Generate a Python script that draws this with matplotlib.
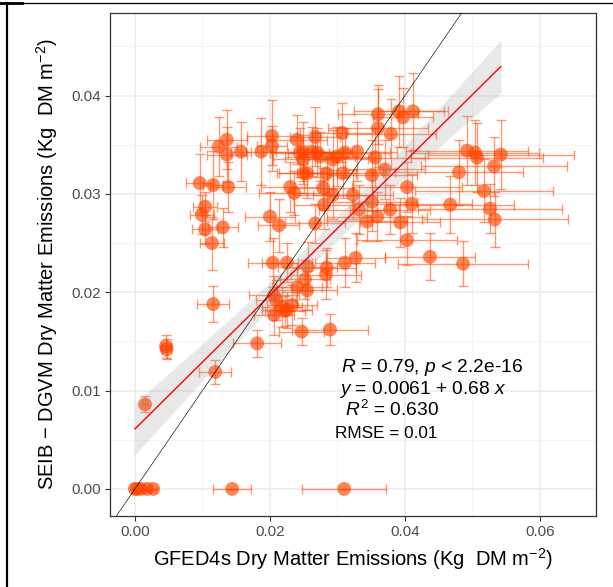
import numpy as np
import matplotlib
matplotlib.use("Agg")
import matplotlib.pyplot as plt
from matplotlib.lines import Line2D

plt.rcParams['font.family'] = ['Liberation Sans', 'DejaVu Sans']
plt.rcParams['mathtext.fontset'] = 'custom'
plt.rcParams['mathtext.rm'] = 'Liberation Sans'
plt.rcParams['mathtext.it'] = 'Liberation Sans:italic'

# GFED4s (x) vs SEIB-DGVM (y), mean and error, Kg DM m-2
gfed = [0.0000, 0.0003, 0.0009, 0.0018, 0.0027, 0.0144, 0.0310,
        0.0015, 0.0046, 0.0047, 0.0119, 0.0116, 0.0181, 0.0247, 0.0289,
        0.0096, 0.0116, 0.0138, 0.0104, 0.0099, 0.0104, 0.0130, 0.0114,
        0.0136, 0.0124, 0.0136, 0.0157, 0.0187, 0.0203, 0.0203, 0.0240,
        0.0267, 0.0249, 0.0200, 0.0213, 0.0230, 0.0236, 0.0267, 0.0280,
        0.0293, 0.0307, 0.0249, 0.0250, 0.0270, 0.0293, 0.0308, 0.0284,
        0.0279, 0.0204, 0.0225, 0.0256, 0.0284, 0.0311, 0.0327, 0.0252,
        0.0283, 0.0240, 0.0255, 0.0206, 0.0209, 0.0218, 0.0225, 0.0233,
        0.0206, 0.0222, 0.0360, 0.0391, 0.0412, 0.0397, 0.0360, 0.0379,
        0.0244, 0.0262, 0.0274, 0.0311, 0.0329, 0.0356, 0.0370, 0.0351,
        0.0255, 0.0323, 0.0351, 0.0332, 0.0359, 0.0378, 0.0344, 0.0393,
        0.0403, 0.0410, 0.0403, 0.0437, 0.0486, 0.0467, 0.0480, 0.0492,
        0.0504, 0.0507, 0.0542, 0.0532, 0.0517, 0.0526, 0.0533, 0.0299]
gfed_err = [0.0003, 0.0003, 0.0003, 0.0004, 0.0004, 0.0028, 0.0062,
            0.0004, 0.0007, 0.0007, 0.0024, 0.0024, 0.0036, 0.0033, 0.0056,
            0.0020, 0.0015, 0.0027, 0.0018, 0.0018, 0.0019, 0.0022, 0.0018,
            0.0030, 0.0027, 0.0030, 0.0015, 0.0022, 0.0037, 0.0022, 0.0044,
            0.0037, 0.0059, 0.0037, 0.0030, 0.0044, 0.0052, 0.0044, 0.0044,
            0.0059, 0.0044, 0.0044, 0.0037, 0.0044, 0.0052, 0.0059, 0.0044,
            0.0044, 0.0037, 0.0037, 0.0044, 0.0044, 0.0044, 0.0044, 0.0037,
            0.0052, 0.0037, 0.0044, 0.0037, 0.0030, 0.0030, 0.0037, 0.0037,
            0.0030, 0.0030, 0.0059, 0.0067, 0.0052, 0.0044, 0.0074, 0.0067,
            0.0044, 0.0059, 0.0052, 0.0067, 0.0059, 0.0074, 0.0059, 0.0067,
            0.0044, 0.0059, 0.0067, 0.0059, 0.0074, 0.0059, 0.0059, 0.0059,
            0.0081, 0.0089, 0.0074, 0.0067, 0.0096, 0.0095, 0.0095, 0.0090,
            0.0095, 0.0098, 0.0108, 0.0108, 0.0102, 0.0107, 0.0108, 0.0050]
seib = [0.0000, 0.0000, 0.0000, 0.0000, 0.0000, 0.0000, 0.0000,
        0.0086, 0.0145, 0.0142, 0.0119, 0.0188, 0.0148, 0.0160, 0.0162,
        0.0311, 0.0309, 0.0307, 0.0287, 0.0279, 0.0264, 0.0266, 0.0250,
        0.0355, 0.0348, 0.0340, 0.0343, 0.0343, 0.0359, 0.0349, 0.0355,
        0.0358, 0.0343, 0.0277, 0.0268, 0.0307, 0.0301, 0.0270, 0.0289,
        0.0299, 0.0362, 0.0335, 0.0321, 0.0342, 0.0335, 0.0321, 0.0321,
        0.0306, 0.0230, 0.0230, 0.0226, 0.0225, 0.0230, 0.0235, 0.0213,
        0.0218, 0.0205, 0.0202, 0.0197, 0.0192, 0.0185, 0.0182, 0.0187,
        0.0177, 0.0181, 0.0381, 0.0384, 0.0384, 0.0378, 0.0367, 0.0361,
        0.0342, 0.0343, 0.0338, 0.0342, 0.0343, 0.0337, 0.0325, 0.0319,
        0.0321, 0.0299, 0.0292, 0.0284, 0.0277, 0.0284, 0.0272, 0.0271,
        0.0307, 0.0290, 0.0253, 0.0236, 0.0229, 0.0289, 0.0322, 0.0344,
        0.0342, 0.0337, 0.0340, 0.0328, 0.0303, 0.0285, 0.0274, 0.0338]
seib_err = [0.0000, 0.0000, 0.0000, 0.0000, 0.0000, 0.0000, 0.0000,
            0.0008, 0.0012, 0.0010, 0.0012, 0.0018, 0.0014, 0.0014, 0.0016,
            0.0030, 0.0035, 0.0025, 0.0015, 0.0020, 0.0015, 0.0020, 0.0027,
            0.0030, 0.0030, 0.0028, 0.0030, 0.0034, 0.0036, 0.0020, 0.0025,
            0.0030, 0.0030, 0.0025, 0.0027, 0.0025, 0.0022, 0.0020, 0.0025,
            0.0025, 0.0030, 0.0025, 0.0020, 0.0025, 0.0030, 0.0025, 0.0022,
            0.0020, 0.0025, 0.0020, 0.0025, 0.0020, 0.0025, 0.0025, 0.0020,
            0.0025, 0.0020, 0.0020, 0.0020, 0.0020, 0.0020, 0.0018, 0.0020,
            0.0020, 0.0015, 0.0030, 0.0036, 0.0039, 0.0030, 0.0040, 0.0036,
            0.0025, 0.0025, 0.0025, 0.0025, 0.0030, 0.0030, 0.0030, 0.0036,
            0.0025, 0.0025, 0.0030, 0.0025, 0.0025, 0.0025, 0.0020, 0.0025,
            0.0025, 0.0030, 0.0025, 0.0024, 0.0023, 0.0029, 0.0033, 0.0035,
            0.0033, 0.0035, 0.0035, 0.0030, 0.0032, 0.0025, 0.0028, 0.0030]

intercept = 0.0061
slope = 0.68

x = np.array(gfed)
y = np.array(seib)

fig = plt.figure(figsize=(6.13, 5.87), dpi=100)
ax = fig.add_axes([0.1794, 0.1210, 0.7929, 0.8569])

ax.errorbar(x, y, xerr=gfed_err, yerr=seib_err, fmt='none', ecolor='#FF4500',
            alpha=0.55, elinewidth=1.0, capsize=3.6, capthick=1.0, zorder=2)
ax.scatter(x, y, s=100, color='#FF4500', alpha=0.65, edgecolors='none', zorder=3)

# linear fit band
xs = np.linspace(x.min(), x.max(), 100)
fit = intercept + slope * xs
res = y - (intercept + slope * x)
n = len(x)
s = np.sqrt(np.sum(res ** 2) / (n - 2))
se = s * np.sqrt(1 / n + (xs - x.mean()) ** 2 / np.sum((x - x.mean()) ** 2))
ax.fill_between(xs, fit - 1.25 * se, fit + 1.25 * se, color='#999999',
                alpha=0.22, linewidth=0, zorder=4)
ax.plot(xs, fit, color='red', lw=1.0, zorder=5)
ax.axline((0, 0), slope=1, color='black', lw=0.45, zorder=6)

ax.set_xlim(-0.0037, 0.0683)
ax.set_ylim(-0.00275, 0.0484)
ax.set_xticks([0.00, 0.02, 0.04, 0.06])
ax.set_xticklabels(['0.00', '0.02', '0.04', '0.06'])
ax.set_yticks([0.00, 0.01, 0.02, 0.03, 0.04])
ax.set_yticklabels(['0.00', '0.01', '0.02', '0.03', '0.04'])
ax.set_xticks([0.01, 0.03, 0.05], minor=True)
ax.set_yticks([0.005, 0.015, 0.025, 0.035, 0.045], minor=True)
ax.grid(which='major', color='#EBEBEB', lw=1.1, zorder=0)
ax.grid(which='minor', color='#F2F2F2', lw=0.6, zorder=0)
ax.set_axisbelow(True)
ax.tick_params(which='major', length=3.5, width=0.8, color='#333333',
               labelcolor='#4D4D4D', labelsize=11, pad=3)
ax.tick_params(which='minor', length=0)
for sp in ax.spines.values():
    sp.set_color('#333333')
    sp.set_linewidth(0.9)

ax.set_xlabel('GFED4s Dry Matter Emissions (Kg  DM m$^{-2}$)', fontsize=14.5, labelpad=5)
ax.set_ylabel('SEIB \u2212 DGVM Dry Matter Emissions (Kg  DM m$^{-2}$)', fontsize=14.5, labelpad=8)

ax.text(0.0305, 0.0123, r'$R$ = 0.79, $p$ < 2.2e-16', fontsize=13.8, va='center')
ax.text(0.0303, 0.0101, r'$y$ = 0.0061 + 0.68 $x$', fontsize=13.8, va='center')
ax.text(0.0311, 0.0080, r'$R^2$ = 0.630', fontsize=13.8, va='center')
ax.text(0.0296, 0.0056, 'RMSE = 0.01', fontsize=12.3, va='center')

# cell border of the source document
fig.add_artist(Line2D([0, 1], [0.995, 0.995], color='black', lw=0.9))
fig.add_artist(Line2D([0, 0.036], [0.995, 0.995], color='black', lw=2))
fig.add_artist(Line2D([0.0115, 0.0115], [0, 0.995], color='black', lw=1.6))

fig.savefig('out.png', dpi=100)
